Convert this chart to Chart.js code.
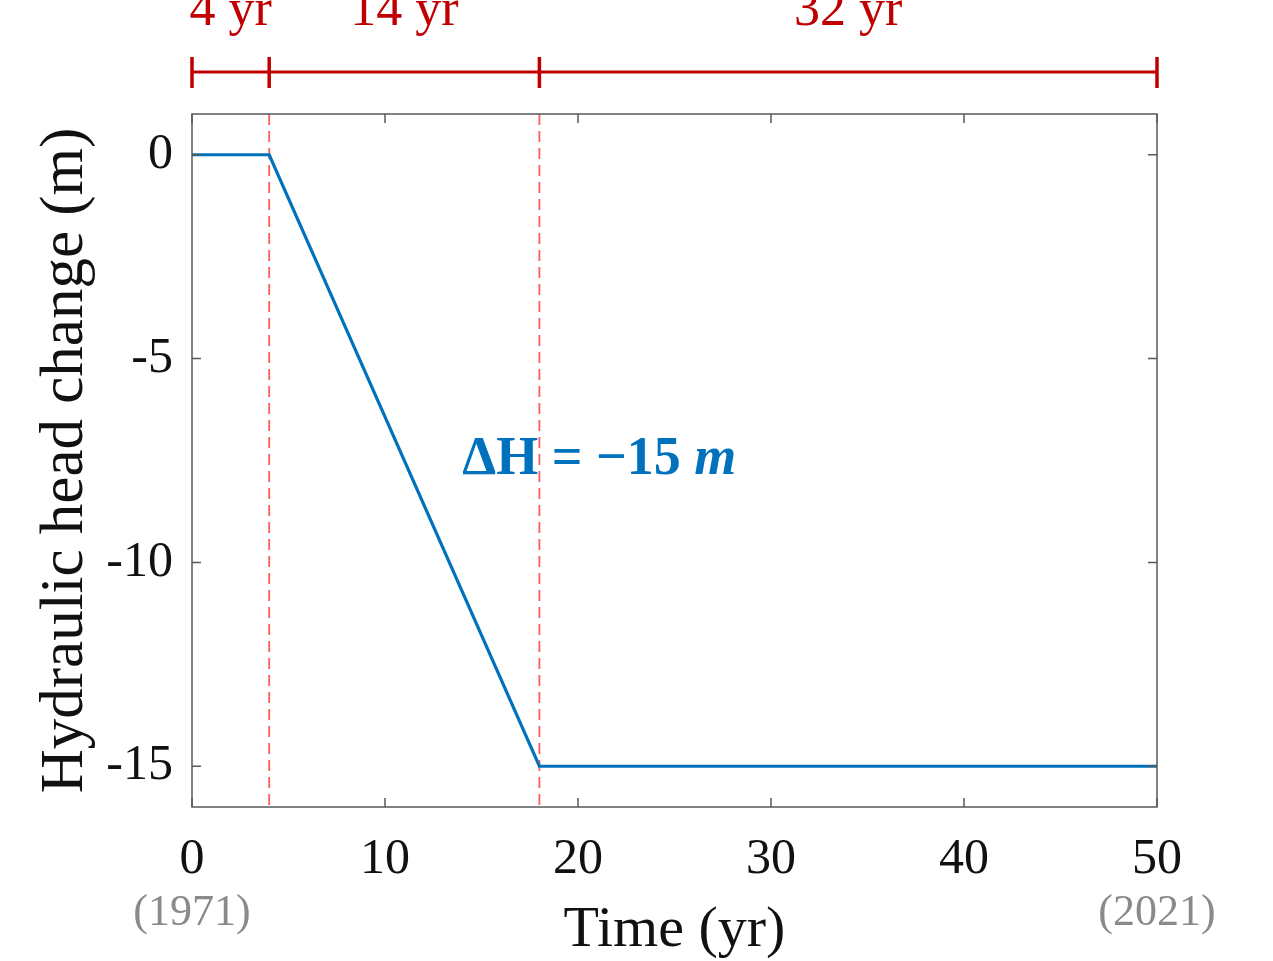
<!DOCTYPE html>
<html>
<head>
<meta charset="utf-8">
<title>Hydraulic head change</title>
<script src="https://cdn.jsdelivr.net/npm/chart.js@4.4.1/dist/chart.umd.min.js"></script>
<style>
  body { margin: 0; background: #fff; }
  canvas { display: block; }
</style>
</head>
<body>
<canvas id="myChart" width="1273" height="961"></canvas>
<script>
var timeYr = [0, 4, 18, 50];
var headChange = [0, 0, -15, -15];
var xTicks = [0, 10, 20, 30, 40, 50];
var yTicks = [-15, -10, -5, 0];
var phaseBounds = [0, 4, 18, 50];
var phaseLabels = ["4 yr", "14 yr", "32 yr"];
var yearLabels = ["(1971)", "(2021)"];   // under first and last x tick
var markTimes = [4, 18];                  // red dashed lines
var noteAt = {x: 21.1, y: -7.5};          // "ΔH = -15 m"

var serif = "'Liberation Serif', 'Times New Roman', serif";
var blue = "#0072BD";
var red = "#c00000";

var lineData = timeYr.map(function(t, i){ return {x: t, y: headChange[i]}; });

var datasets = markTimes.map(function(t){
    return {
        data: [{x: t, y: 1}, {x: t, y: -16}],
        borderColor: "#ff5c5c",
        borderWidth: 1.8,
        borderDash: [11, 6],
        pointRadius: 0,
        order: 2
    };
});
datasets.push({
    data: lineData,
    borderColor: blue,
    borderWidth: 3.2,
    pointRadius: 0,
    tension: 0,
    order: 1
});

var decorations = {
    id: "decorations",
    afterDraw: function(chart) {
        var ctx = chart.ctx, area = chart.chartArea;
        var xs = chart.scales.x, ys = chart.scales.y;
        ctx.save();

        // axes box with inward ticks
        ctx.strokeStyle = "#595959";
        ctx.lineWidth = 1.5;
        ctx.strokeRect(area.left, area.top, area.right - area.left, area.bottom - area.top);
        ctx.beginPath();
        xTicks.forEach(function(v){
            var px = xs.getPixelForValue(v);
            ctx.moveTo(px, area.bottom); ctx.lineTo(px, area.bottom - 9);
            ctx.moveTo(px, area.top); ctx.lineTo(px, area.top + 9);
        });
        yTicks.forEach(function(v){
            var py = ys.getPixelForValue(v);
            ctx.moveTo(area.left, py); ctx.lineTo(area.left + 9, py);
            ctx.moveTo(area.right, py); ctx.lineTo(area.right - 9, py);
        });
        ctx.stroke();

        // years under the ends of the x axis
        ctx.fillStyle = "#8a8a8a";
        ctx.font = "44px " + serif;
        ctx.textAlign = "center";
        ctx.textBaseline = "middle";
        ctx.fillText(yearLabels[0], xs.getPixelForValue(xTicks[0]), 913);
        ctx.fillText(yearLabels[1], xs.getPixelForValue(xTicks[xTicks.length - 1]), 913);

        // period bar above the plot
        var by = area.top - 42;
        var px = phaseBounds.map(function(v){ return xs.getPixelForValue(v); });
        ctx.strokeStyle = red;
        ctx.lineWidth = 3;
        ctx.beginPath();
        ctx.moveTo(px[0], by); ctx.lineTo(px[px.length - 1], by);
        ctx.stroke();
        ctx.lineWidth = 3.5;
        ctx.beginPath();
        px.forEach(function(p){ ctx.moveTo(p, by - 15); ctx.lineTo(p, by + 16); });
        ctx.stroke();
        ctx.fillStyle = red;
        ctx.font = "52px " + serif;
        ctx.textBaseline = "alphabetic";
        phaseLabels.forEach(function(lab, i){
            ctx.fillText(lab, (px[i] + px[i + 1]) / 2, 25);
        });

        // delta H note
        var nx = xs.getPixelForValue(noteAt.x), ny = ys.getPixelForValue(noteAt.y);
        var partA = "\u0394H = \u221215 ", partB = "m";
        var fA = "bold 54px " + serif, fB = "italic bold 54px " + serif;
        ctx.font = fA; var wA = ctx.measureText(partA).width;
        ctx.font = fB; var wB = ctx.measureText(partB).width;
        var sx = nx - (wA + wB) / 2;
        ctx.fillStyle = blue;
        ctx.textAlign = "left";
        ctx.textBaseline = "middle";
        ctx.font = fA; ctx.fillText(partA, sx, ny);
        ctx.font = fB; ctx.fillText(partB, sx + wA, ny);

        ctx.restore();
    }
};

new Chart("myChart", {
    type: "line",
    data: { datasets: datasets },
    options: {
        responsive: false,
        animation: false,
        layout: { padding: { top: 114, right: 116, left: 0, bottom: 0 } },
        plugins: { legend: { display: false }, tooltip: { enabled: false } },
        scales: {
            x: {
                type: "linear",
                min: 0, max: 50,
                afterBuildTicks: function(s){ s.ticks = xTicks.map(function(v){ return {value: v}; }); },
                afterFit: function(s){ s.height = 154; },
                grid: { display: false, drawTicks: false },
                border: { display: false },
                ticks: { color: "#111", font: { family: serif, size: 50 }, padding: 23, maxRotation: 0 },
                title: { display: true, text: "Time (yr)", color: "#111",
                         font: { family: serif, size: 58, lineHeight: 1 }, padding: { top: 0, bottom: 1 } }
            },
            y: {
                min: -16, max: 1,
                afterBuildTicks: function(s){ s.ticks = yTicks.map(function(v){ return {value: v}; }); },
                afterFit: function(s){ s.width = 192; },
                grid: { display: false, drawTicks: false },
                border: { display: false },
                ticks: { color: "#111", font: { family: serif, size: 50 }, padding: 19 },
                title: { display: true, text: "Hydraulic head change (m)", color: "#111",
                         font: { family: serif, size: 61, lineHeight: 1 }, padding: { top: 35, bottom: 0 } }
            }
        }
    },
    plugins: [decorations]
});
</script>
</body>
</html>
